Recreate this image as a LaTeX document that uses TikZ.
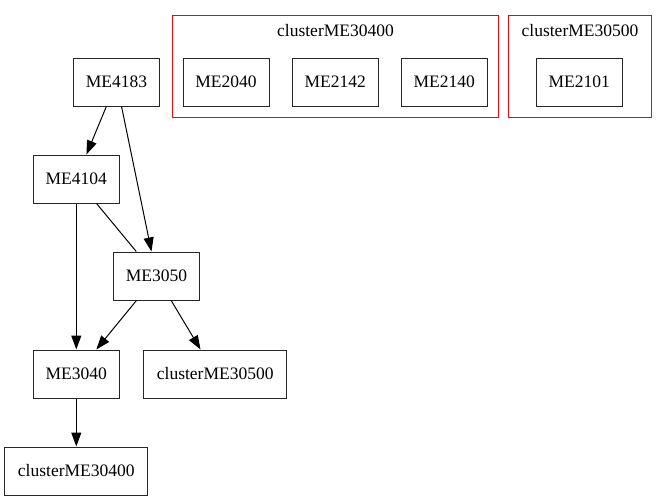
\documentclass[tikz,border=0pt]{standalone}
\usepackage{fontspec}
\setmainfont{Liberation Serif}
\usetikzlibrary{arrows.meta}
\begin{document}
\begin{tikzpicture}[x=1pt,y=-1pt,
  font=\fontsize{17.5}{20}\selectfont,
  box/.style={draw=black!85,line width=1pt,inner sep=0pt,minimum width=86pt,minimum height=48pt},
  widebox/.style={box,minimum width=143pt},
  clusterbox/.style={draw=red,line width=1pt},
  edge/.style={line width=1pt,-{Triangle[length=14pt,width=10pt]}},
  plainedge/.style={line width=1pt}]
\useasboundingbox (0,0) rectangle (667,501);

% clusters
\draw[clusterbox] (172.3,15.7) rectangle (498.3,117.3);
\node (lab400) at (335.5,30.5) {clusterME30400};
\draw[clusterbox] (508.3,15.7) rectangle (651.7,117.3);
\node (lab500) at (580,30.5) {clusterME30500};

\node[box] (me2040) at (226,82) {ME2040};
\node[box] (me2142) at (335.3,82) {ME2142};
\node[box] (me2140) at (444.3,82) {ME2140};
\node[box] (me2101) at (579.2,82) {ME2101};

% main graph
\node[box] (me4183) at (116.5,82) {ME4183};
\node[box] (me4104) at (76.3,179) {ME4104};
\node[box] (me3050) at (156.5,276) {ME3050};
\node[box] (me3040) at (76.3,374) {ME3040};
\node[widebox] (c500) at (215.2,374) {clusterME30500};
\node[widebox] (c400) at (76.3,471) {clusterME30400};

\draw[edge] (me4183) -- (me4104);
\draw[edge] (me4183) -- (me3050);
\draw[plainedge] (me4104) -- (me3050);
\draw[edge] (me4104) -- (me3040);
\draw[edge] (me3050) -- (me3040);
\draw[edge] (me3050) -- (c500);
\draw[edge] (me3040) -- (c400);
\end{tikzpicture}
\end{document}
